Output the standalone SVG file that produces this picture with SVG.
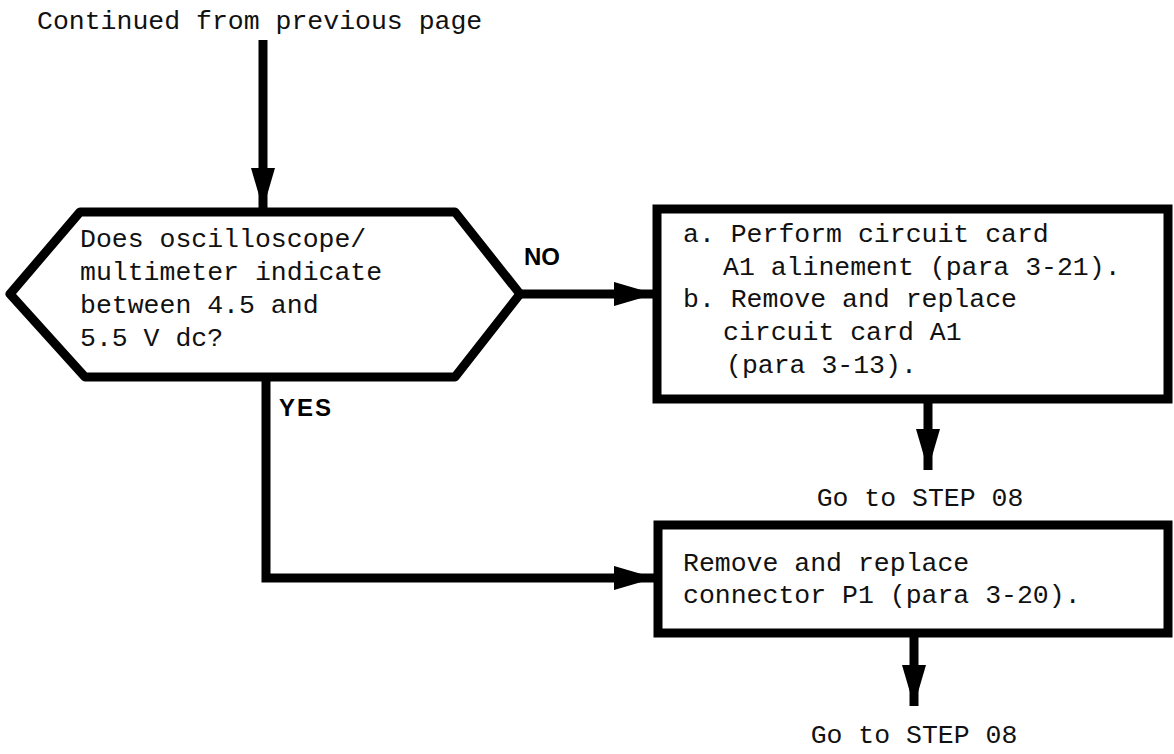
<svg xmlns="http://www.w3.org/2000/svg" width="1174" height="754" viewBox="0 0 1174 754">
<style>
.t{font-family:"Liberation Mono","DejaVu Sans Mono",monospace;font-size:26.5px;fill:#111}
.b{font-family:"Liberation Sans",Arial,sans-serif;font-size:24px;font-weight:bold;fill:#000}
.ln{fill:none;stroke:#000;stroke-width:9}
.shape{fill:#fff;stroke:#000;stroke-width:9}
</style>
<defs>
<marker id="ah" viewBox="0 0 10 10" refX="10" refY="5" markerWidth="4.6" markerHeight="2.7" orient="auto" markerUnits="strokeWidth" preserveAspectRatio="none">
<path d="M0,0 L10,5 L0,10 z" fill="#000"/>
</marker>
</defs>
<text class="t" x="37" y="29">Continued from previous page</text>
<g id="connectors">
<line class="ln" x1="263" y1="40" x2="263" y2="209" marker-end="url(#ah)"/>
<line class="ln" x1="518" y1="294" x2="655" y2="294" marker-end="url(#ah)"/>
<polyline class="ln" points="266,379 266,578 655,578" marker-end="url(#ah)"/>
<line class="ln" x1="928" y1="402" x2="928" y2="470" marker-end="url(#ah)"/>
<line class="ln" x1="914" y1="636" x2="914" y2="706" marker-end="url(#ah)"/>
</g>
<text class="b" x="524" y="265">NO</text>
<text class="b" x="279" y="416" font-size="22" letter-spacing="2">YES</text>
<g id="decision">
<polygon class="shape" stroke-width="7" stroke-linejoin="round" points="80,212 455,212 520,294 455,377 85,377 10,294"/>
<text class="t" x="80" y="247">Does oscilloscope/</text>
<text class="t" x="80" y="280">multimeter indicate</text>
<text class="t" x="80" y="313">between 4.5 and</text>
<text class="t" x="80" y="346">5.5 V dc?</text>
</g>
<g id="box1">
<rect class="shape" x="657" y="209" width="511" height="190"/>
<text class="t" x="683" y="242">a. Perform circuit card</text>
<text class="t" x="723" y="275">A1 alinement (para 3-21).</text>
<text class="t" x="683" y="307">b. Remove and replace</text>
<text class="t" x="723" y="340">circuit card A1</text>
<text class="t" x="726" y="373">(para 3-13).</text>
</g>
<text class="t" x="920" y="506" text-anchor="middle">Go to STEP 08</text>
<g id="box2">
<rect class="shape" x="658" y="525" width="510" height="108"/>
<text class="t" x="683" y="571">Remove and replace</text>
<text class="t" x="683" y="603">connector P1 (para 3-20).</text>
</g>
<text class="t" x="914" y="743" text-anchor="middle">Go to STEP 08</text>
</svg>
